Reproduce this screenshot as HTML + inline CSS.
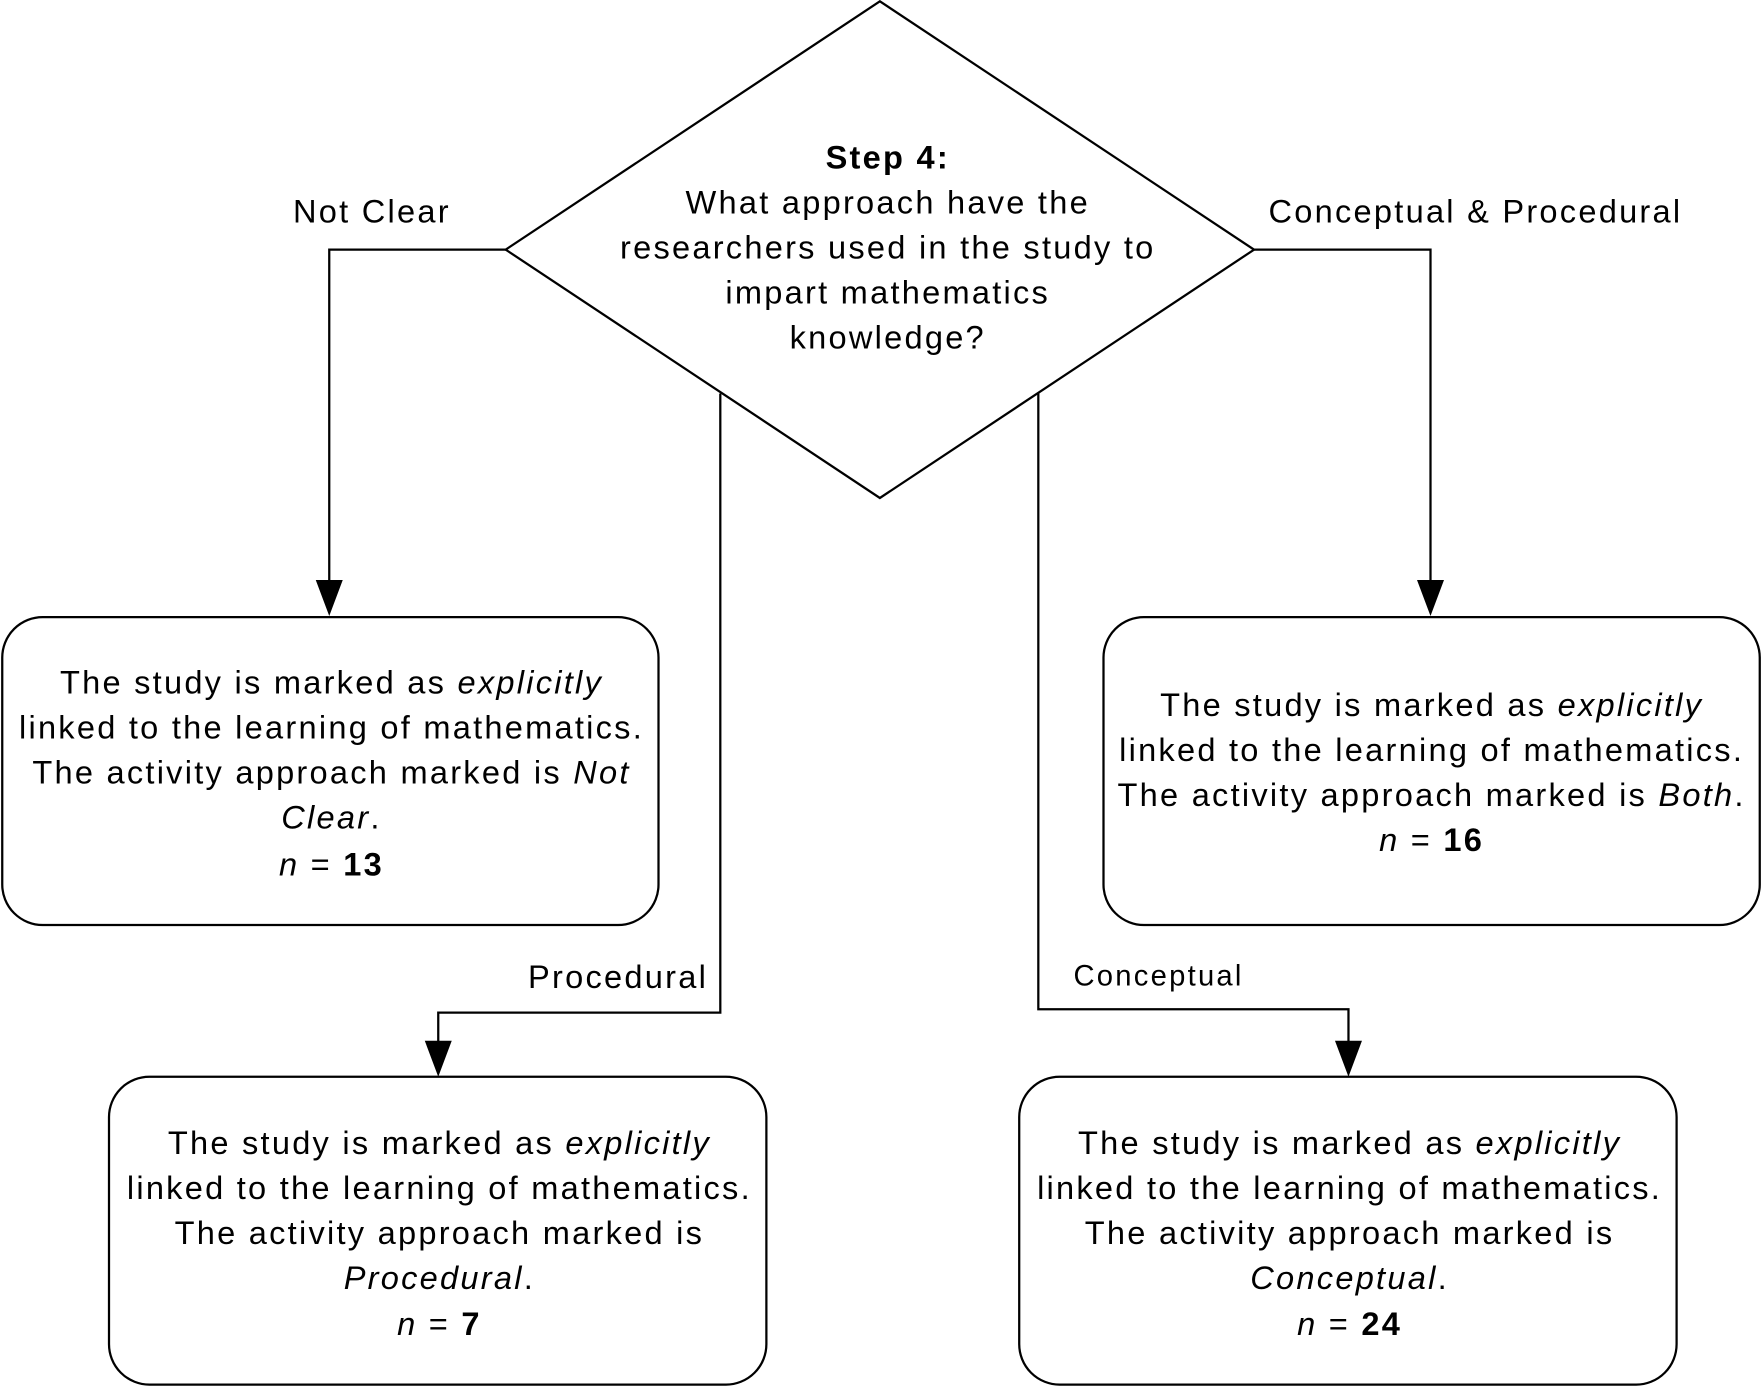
<!DOCTYPE html>
<html><head><meta charset="utf-8"><style>
html,body{margin:0;padding:0;background:#fff;}
svg{display:block;}
text{font-family:"Liberation Sans",Arial,sans-serif;font-size:29px;fill:#000;letter-spacing:2px;}
</style></head><body>
<svg width="1762" height="1387" viewBox="0 0 1568 1234" xmlns="http://www.w3.org/2000/svg">
<g fill="none" stroke="#000" stroke-width="2">
<polygon points="783,1 450,222 783,443 1116,222"/>
<polyline points="450,222 293,222 293,520"/>
<polyline points="1116,222 1273,222 1273,520"/>
<polyline points="641,350 641,901 390,901 390,930"/>
<polyline points="924,350 924,898 1200,898 1200,930"/>
<rect x="2" y="549" width="584" height="274" rx="36"/>
<rect x="982" y="549" width="584" height="274" rx="36"/>
<rect x="97" y="958" width="585" height="274" rx="36"/>
<rect x="907" y="958" width="585" height="274" rx="36"/>
</g>
<g fill="#000">
<polygon points="281,516 305,516 293,548"/>
<polygon points="1261,516 1285,516 1273,548"/>
<polygon points="378,926 402,926 390,958"/>
<polygon points="1188,926 1212,926 1200,958"/>
</g>
<g text-anchor="middle">
<text x="790" y="150" font-weight="bold">Step 4:</text>
<text x="790" y="190">What approach have the</text>
<text x="790" y="230">researchers used in the study to</text>
<text x="790" y="270">impart mathematics</text>
<text x="790" y="310">knowledge?</text>
<text x="331" y="198">Not Clear</text>
<text x="1313" y="198">Conceptual &amp; Procedural</text>
<text x="550" y="879">Procedural</text>
<text x="1031" y="877" style="font-size:26px">Conceptual</text>

<text x="295" y="617">The study is marked as <tspan font-style="italic">explicitly</tspan></text>
<text x="295" y="657">linked to the learning of mathematics.</text>
<text x="295" y="697">The activity approach marked is <tspan font-style="italic">Not</tspan></text>
<text x="295" y="737"><tspan font-style="italic">Clear</tspan>.</text>
<text x="295" y="779"><tspan font-style="italic">n</tspan> = <tspan font-weight="bold">13</tspan></text>

<text x="1274" y="637">The study is marked as <tspan font-style="italic">explicitly</tspan></text>
<text x="1274" y="677">linked to the learning of mathematics.</text>
<text x="1274" y="717">The activity approach marked is <tspan font-style="italic">Both</tspan>.</text>
<text x="1274" y="757"><tspan font-style="italic">n</tspan> = <tspan font-weight="bold">16</tspan></text>

<text x="391" y="1027">The study is marked as <tspan font-style="italic">explicitly</tspan></text>
<text x="391" y="1067">linked to the learning of mathematics.</text>
<text x="391" y="1107">The activity approach marked is</text>
<text x="391" y="1147"><tspan font-style="italic">Procedural</tspan>.</text>
<text x="391" y="1188"><tspan font-style="italic">n</tspan> = <tspan font-weight="bold">7</tspan></text>

<text x="1201" y="1027">The study is marked as <tspan font-style="italic">explicitly</tspan></text>
<text x="1201" y="1067">linked to the learning of mathematics.</text>
<text x="1201" y="1107">The activity approach marked is</text>
<text x="1201" y="1147"><tspan font-style="italic">Conceptual</tspan>.</text>
<text x="1201" y="1188"><tspan font-style="italic">n</tspan> = <tspan font-weight="bold">24</tspan></text>
</g>
</svg>
</body></html>
